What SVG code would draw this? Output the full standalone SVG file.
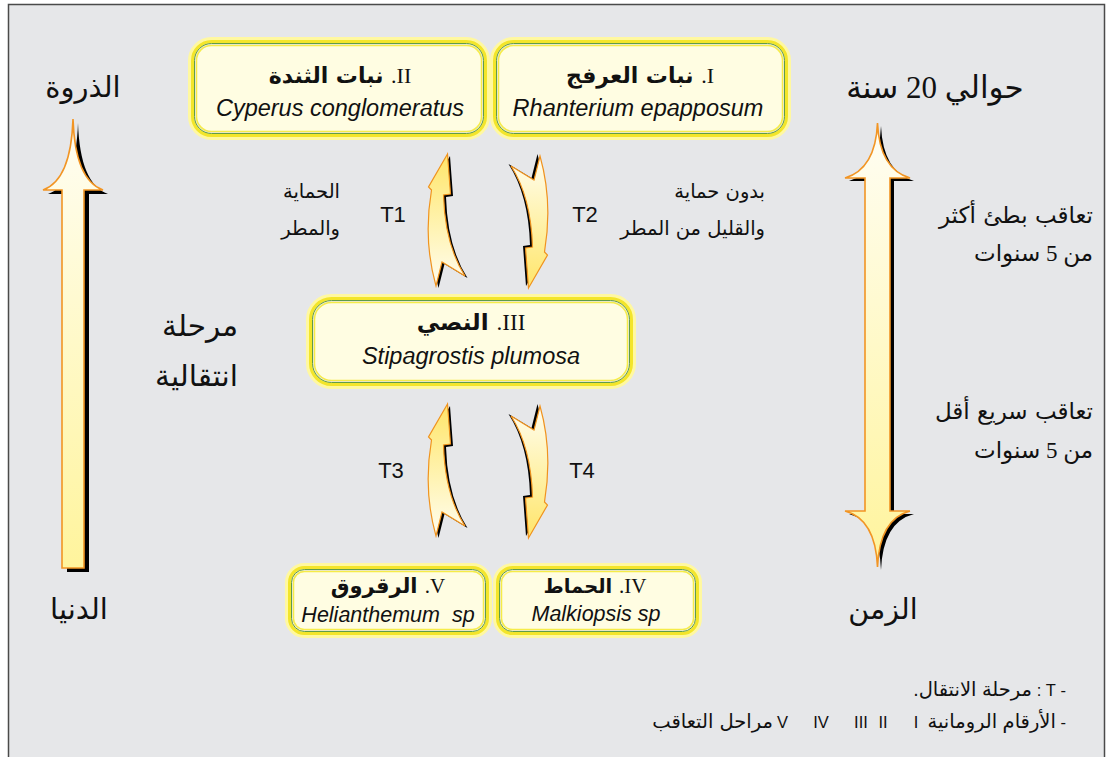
<svg xmlns="http://www.w3.org/2000/svg" width="1108" height="757" viewBox="0 0 1108 757">
<defs>
<style>
.ar{font-family:"DejaVu Sans",sans-serif;fill:#111}
.lat{font-family:"Liberation Sans",Arial,sans-serif;fill:#111}
.lar{font-family:"Liberation Sans","DejaVu Sans",sans-serif;fill:#111}
.sp{font-family:"Liberation Sans",Arial,sans-serif;font-style:italic;fill:#111;white-space:pre}
.mix{font-family:"Liberation Serif","DejaVu Sans",serif;fill:#111}
.rom{font-family:"Liberation Serif",serif}
.arb{font-family:"DejaVu Sans",sans-serif;font-weight:bold}
.glow{fill:none;stroke:#fff8a0;stroke-width:7}
.ring{fill:none;stroke:#f3e52a;stroke-width:3}
.green{fill:none;stroke:#5f9b4a;stroke-width:1}
.inner{fill:#fffde2;stroke:#f6ec48;stroke-width:1.5}
.big{stroke:#f29524;stroke-width:1.6}
.tarr{stroke:#f0931e;stroke-width:1.2}
</style>
<linearGradient id="gL" x1="0" y1="0" x2="0" y2="1">
<stop offset="0" stop-color="#fffef4"/><stop offset="1" stop-color="#fff49c"/>
</linearGradient>
<linearGradient id="gT" x1="0" y1="0" x2="0" y2="1">
<stop offset="0" stop-color="#ffe56a"/><stop offset="0.5" stop-color="#fff2ab"/><stop offset="1" stop-color="#fffdf0"/>
</linearGradient>
<path id="tA" d="M447.5,154 L428.5,187 L431.5,190 Q423,240 436,286 L442,262 L465,276 Q445,245 443.5,195 L450.5,194 Z"/>
</defs>

<rect x="0" y="0" width="1108" height="757" fill="#ffffff"/>
<rect x="8.5" y="4.5" width="1096" height="800" fill="#e6e7e9" stroke="#4a4a4a" stroke-width="1.5"/>

<!-- left big arrow -->
<g id="arrow-climax">
<path d="M78,123 Q76,184 48,194 L67,194 L67,572 L89,572 L89,194 L108,194 Q80,184 78,123 Z" fill="#000"/>
<path class="big" d="M73,119 Q71,180 43,190 L62,190 L62,568 L84,568 L84,190 L103,190 Q75,180 73,119 Z" fill="url(#gL)"/>
</g>

<!-- right double arrow -->
<g id="arrow-time">
<path d="M881,126 Q879,172 849,181 L868,181 L868,514 L849,514 Q879,522 881,570 Q883,522 914,514 L894,514 L894,181 L914,181 Q883,172 881,126 Z" fill="#000"/>
<path class="big" d="M877.5,123 Q875.5,169 845,178 L865,178 L865,511 L845,511 Q875.5,519 877.5,567 Q879.5,519 910,511 L890,511 L890,178 L910,178 Q879.5,169 877.5,123 Z" fill="url(#gL)"/>
</g>

<!-- nodes -->
<g id="node-II" transform="translate(188,37)">
<rect class="glow" x="3.5" y="3.5" width="295" height="96" rx="20"/>
<rect class="ring" x="4.5" y="4.5" width="293" height="94" rx="19"/>
<rect class="green" x="6.5" y="6.5" width="289" height="90" rx="17"/>
<rect class="inner" x="8.5" y="8.5" width="285" height="86" rx="15"/>
<text x="152" y="46" font-size="22" direction="rtl" text-anchor="middle" fill="#111"><tspan class="rom">II.</tspan><tspan class="arb"> نبات الثندة</tspan></text>
<text class="sp" x="152" y="79" font-size="23.5" text-anchor="middle">Cyperus conglomeratus</text>
</g>
<g id="node-I" transform="translate(490,37)">
<rect class="glow" x="3.5" y="3.5" width="294" height="96" rx="20"/>
<rect class="ring" x="4.5" y="4.5" width="292" height="94" rx="19"/>
<rect class="green" x="6.5" y="6.5" width="288" height="90" rx="17"/>
<rect class="inner" x="8.5" y="8.5" width="284" height="86" rx="15"/>
<text x="150" y="46" font-size="22" direction="rtl" text-anchor="middle" fill="#111"><tspan class="rom">I.</tspan><tspan class="arb"> نبات العرفج</tspan></text>
<text class="sp" x="148" y="79" font-size="23.5" text-anchor="middle">Rhanterium epapposum</text>
</g>
<g id="node-III" transform="translate(306,294)">
<rect class="glow" x="3.5" y="3.5" width="323" height="88" rx="22"/>
<rect class="ring" x="4.5" y="4.5" width="321" height="86" rx="21"/>
<rect class="green" x="6.5" y="6.5" width="317" height="82" rx="19"/>
<rect class="inner" x="8.5" y="8.5" width="313" height="78" rx="17"/>
<text x="165" y="36" font-size="23" direction="rtl" text-anchor="middle" fill="#111"><tspan class="rom">III.</tspan><tspan class="arb"> النصي</tspan></text>
<text class="sp" x="165" y="70" font-size="23.5" text-anchor="middle">Stipagrostis plumosa</text>
</g>
<g id="node-V" transform="translate(285,563)">
<rect class="glow" x="3.5" y="3.5" width="200" height="68" rx="16"/>
<rect class="ring" x="4.5" y="4.5" width="198" height="66" rx="15"/>
<rect class="green" x="6.5" y="6.5" width="194" height="62" rx="13"/>
<rect class="inner" x="8.5" y="8.5" width="190" height="58" rx="11"/>
<text x="103" y="30" font-size="21" direction="rtl" text-anchor="middle" fill="#111"><tspan class="rom">V.</tspan><tspan class="arb"> الرقروق</tspan></text>
<text class="sp" x="103" y="58.5" font-size="21.5" text-anchor="middle">Helianthemum  sp</text>
</g>
<g id="node-IV" transform="translate(493,563)">
<rect class="glow" x="3.5" y="3.5" width="202" height="68" rx="16"/>
<rect class="ring" x="4.5" y="4.5" width="200" height="66" rx="15"/>
<rect class="green" x="6.5" y="6.5" width="196" height="62" rx="13"/>
<rect class="inner" x="8.5" y="8.5" width="192" height="58" rx="11"/>
<text x="102" y="30" font-size="21" direction="rtl" text-anchor="middle" fill="#111"><tspan class="rom">IV.</tspan><tspan class="arb" font-size="19.5"> الحماط</tspan></text>
<text class="sp" x="103" y="58" font-size="21.5" text-anchor="middle">Malkiopsis sp</text>
</g>

<!-- transition arrows -->
<g id="connectors">
<g id="T1-arrow"><use href="#tA" fill="#000" transform="translate(2.5,2)"/><use href="#tA" class="tarr" fill="url(#gT)"/></g>
<g id="T2-arrow" transform="rotate(180,488,221)"><use href="#tA" fill="#000" transform="translate(2.5,2)"/><use href="#tA" class="tarr" fill="url(#gT)"/></g>
<g id="T3-arrow" transform="translate(0,250)"><use href="#tA" fill="#000" transform="translate(2.5,2)"/><use href="#tA" class="tarr" fill="url(#gT)"/></g>
<g id="T4-arrow" transform="translate(0,250) rotate(180,488,221)"><use href="#tA" fill="#000" transform="translate(2.5,2)"/><use href="#tA" class="tarr" fill="url(#gT)"/></g>
</g>

<!-- labels -->
<g id="labels">
<text class="lat" x="393" y="222" font-size="22" text-anchor="middle">T1</text>
<text class="lat" x="585" y="222" font-size="22" text-anchor="middle">T2</text>
<text class="lat" x="391" y="478" font-size="22" text-anchor="middle">T3</text>
<text class="lat" x="582" y="478" font-size="22" text-anchor="middle">T4</text>
<text class="ar" x="340" y="198" font-size="19.5" text-anchor="end">الحماية</text>
<text class="ar" x="340" y="235" font-size="19.5" text-anchor="end">والمطر</text>
<text class="ar" x="765" y="198" font-size="19.5" text-anchor="end">بدون حماية</text>
<text class="ar" x="765" y="235" font-size="19.5" text-anchor="end">والقليل من المطر</text>

<text class="ar" x="83" y="97" font-size="29" text-anchor="middle">الذروة</text>
<text class="ar" x="79" y="619" font-size="29" text-anchor="middle">الدنيا</text>
<text class="ar" x="238" y="336" font-size="29.5" text-anchor="end">مرحلة</text>
<text class="ar" x="238" y="386" font-size="29.5" text-anchor="end">انتقالية</text>

<text class="mix" x="935" y="98" font-size="31" direction="rtl" text-anchor="middle">حوالي 20 سنة</text>
<text class="ar" x="883" y="619" font-size="28.5" text-anchor="middle">الزمن</text>
<text class="ar" x="1093" y="223" font-size="23" text-anchor="end">تعاقب بطئ أكثر</text>
<text class="mix" x="1093" y="261" font-size="23" direction="rtl" text-anchor="start">من 5 سنوات</text>
<text class="ar" x="1093" y="419" font-size="23" text-anchor="end">تعاقب سريع أقل</text>
<text class="mix" x="1093" y="458" font-size="23" direction="rtl" text-anchor="start">من 5 سنوات</text>

<text class="lar" x="1066" y="696" font-size="16.5" direction="rtl" text-anchor="start">- T : <tspan font-size="19.5">مرحلة الانتقال.</tspan></text>
<text class="lar" x="1066" y="728" font-size="16.5" direction="rtl" text-anchor="start">- <tspan font-size="19.5">الأرقام الرومانية</tspan></text>
<text class="lat" x="916" y="728" font-size="16.5" text-anchor="middle">I</text>
<text class="lat" x="883" y="728" font-size="16.5" text-anchor="middle">II</text>
<text class="lat" x="861" y="728" font-size="16.5" text-anchor="middle">III</text>
<text class="lat" x="821" y="728" font-size="16.5" text-anchor="middle">IV</text>
<text class="lat" x="782.5" y="728" font-size="16.5" text-anchor="middle">V</text>
<text class="ar" x="773" y="728" font-size="19.5" text-anchor="end">مراحل التعاقب</text>
</g>
</svg>
